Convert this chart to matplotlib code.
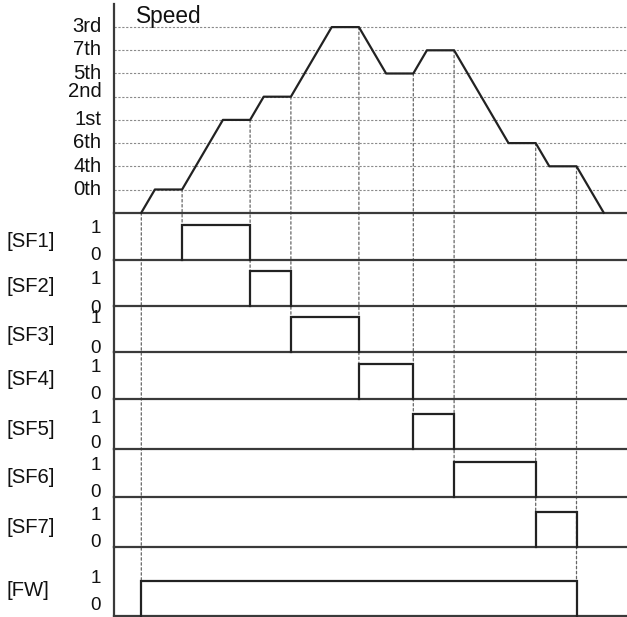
import numpy as np
import matplotlib
matplotlib.use('Agg')
import matplotlib.pyplot as plt
from matplotlib.patches import ConnectionPatch
from matplotlib.transforms import blended_transform_factory, ScaledTranslation

plt.rcParams['font.family'] = ['Liberation Sans', 'DejaVu Sans']

# ---------------- data ----------------
speed_names = ['0th', '4th', '6th', '1st', '2nd', '5th', '7th', '3rd']
speed_levels = [1, 2, 3, 4, 5, 6, 7, 8]
speed_t = [0, 1, 3, 6, 8, 9, 11, 14, 16, 18, 20, 21, 23, 27, 29, 30, 32, 34]
speed_v = [0, 1, 1, 4, 4, 5, 5, 8, 8, 6, 6, 7, 7, 3, 3, 2, 2, 0]

signal_names = ['[SF1]', '[SF2]', '[SF3]', '[SF4]', '[SF5]', '[SF6]', '[SF7]', '[FW]']
pulse_on = [3, 8, 11, 16, 20, 23, 29, 0]
pulse_off = [8, 11, 16, 20, 23, 29, 32, 32]
state_labels = ['1', '0']

# ---------------- layout (pixels) ----------------
W, H, DPI = 627, 617, 100
X_LEFT = 114.0
X0 = 141.3
PX_PER_T = 13.6
SPEED_TOP = 4.0
SPEED_BASE = 212.7
PX_PER_LEVEL = 23.2
PULSE_PX = 35.0
row_base = [260.0, 306.0, 352.3, 399.0, 448.7, 497.0, 547.3, 616.0]
lab1_dy = [-1.7, -6.7, 0.6, -1.0, -3.0, -1.3, -1.0, 4.3]     # label "1" centre vs pulse top
lab0_dy = [6.7, 0.0, 5.6, 6.7, 7.0, 7.0, 7.3, 12.7]           # label "0" centre vs baseline
name_cy = [240.0, 285.0, 334.0, 377.3, 427.3, 475.7, 526.0, 588.3]
speed_lab_up = [1.5, 1.5, 2.0, 2.0, 6.5, 1.5, 2.5, 2.5]

FS_TICK = 14.6
FS_STATE = 13.6
FS_NAME = 14.6
FS_TITLE = 16.3
LINE_C = '#222222'
BASE_C = '#3a3a3a'

fig = plt.figure(figsize=(W / DPI, H / DPI), dpi=DPI)
fig.patch.set_facecolor('white')
xlim = ((X_LEFT - X0) / PX_PER_T, (W - X0) / PX_PER_T)


def add_ax(top_px, bottom_px):
    ax = fig.add_axes([X_LEFT / W, (H - bottom_px) / H, (W - X_LEFT) / W, (bottom_px - top_px) / H])
    ax.set_xlim(*xlim)
    ax.patch.set_alpha(0)
    for s in ('top', 'right'):
        ax.spines[s].set_visible(False)
    for s in ('left', 'bottom'):
        ax.spines[s].set_linewidth(1.6)
        ax.spines[s].set_color(BASE_C)
    ax.set_xticks([])
    ax.set_yticks([])
    return ax


def cap_half(fs):
    return 0.358 * fs * DPI / 72.0


# ---- speed panel ----
axs = add_ax(SPEED_TOP, SPEED_BASE)
axs.set_ylim(0, (SPEED_BASE - SPEED_TOP) / PX_PER_LEVEL)
for lv in speed_levels:
    axs.axhline(lv, color='#8a8a8a', lw=0.8, ls=(0, (2, 1.5)), zorder=1)
axs.plot(speed_t, speed_v, color=LINE_C, lw=1.6, zorder=3, clip_on=False)
tr_s = blended_transform_factory(axs.transAxes, axs.transData)
for name, lv, up in zip(speed_names, speed_levels, speed_lab_up):
    off = ScaledTranslation(-12.5 / DPI, (up - cap_half(FS_TICK)) / DPI, fig.dpi_scale_trans)
    axs.text(0, lv, name, transform=tr_s + off, ha='right', va='baseline',
             fontsize=FS_TICK, color='#111111')
fig.text(136 / W, 1 - 22.7 / H, 'Speed', fontsize=FS_TITLE, ha='left', va='baseline', color='#111111')

# ---- signal rows ----
row_axes = []
prev = SPEED_BASE
for i, name in enumerate(signal_names):
    ax = add_ax(prev, row_base[i])
    ax.set_ylim(0, (row_base[i] - prev) / PULSE_PX)
    on, off = pulse_on[i], pulse_off[i]
    ax.plot([on, on, off, off], [0, 1, 1, 0], color=LINE_C, lw=1.6, zorder=3,
            solid_joinstyle='miter', clip_on=False)
    tr = blended_transform_factory(ax.transAxes, ax.transData)
    for val, lab, dy in ((1, state_labels[0], lab1_dy[i]), (0, state_labels[1], lab0_dy[i])):
        o = ScaledTranslation(-13 / DPI, (dy - cap_half(FS_STATE)) / DPI, fig.dpi_scale_trans)
        ax.text(0, val, lab, transform=tr + o, ha='right', va='baseline',
                fontsize=FS_STATE, color='#111111')
    fig.text(6 / W, 1 - (name_cy[i] + cap_half(FS_NAME)) / H, name, fontsize=FS_NAME,
             ha='left', va='baseline', color='#111111')
    row_axes.append(ax)
    prev = row_base[i]

# ---- dotted time markers: speed corner -> start of pulse ----
markers = [(t, row_axes[i]) for i, t in enumerate(pulse_on)]
markers.append((pulse_off[-1], row_axes[-1]))
for t, axr in markers:
    v = float(np.interp(t, speed_t, speed_v))
    con = ConnectionPatch(xyA=(t, v), coordsA=axs.transData, xyB=(t, 1), coordsB=axr.transData,
                          color='#666666', lw=0.9, ls=(0, (2, 2)), zorder=0)
    fig.add_artist(con)

fig.savefig('out.png', dpi=DPI, facecolor='white')
